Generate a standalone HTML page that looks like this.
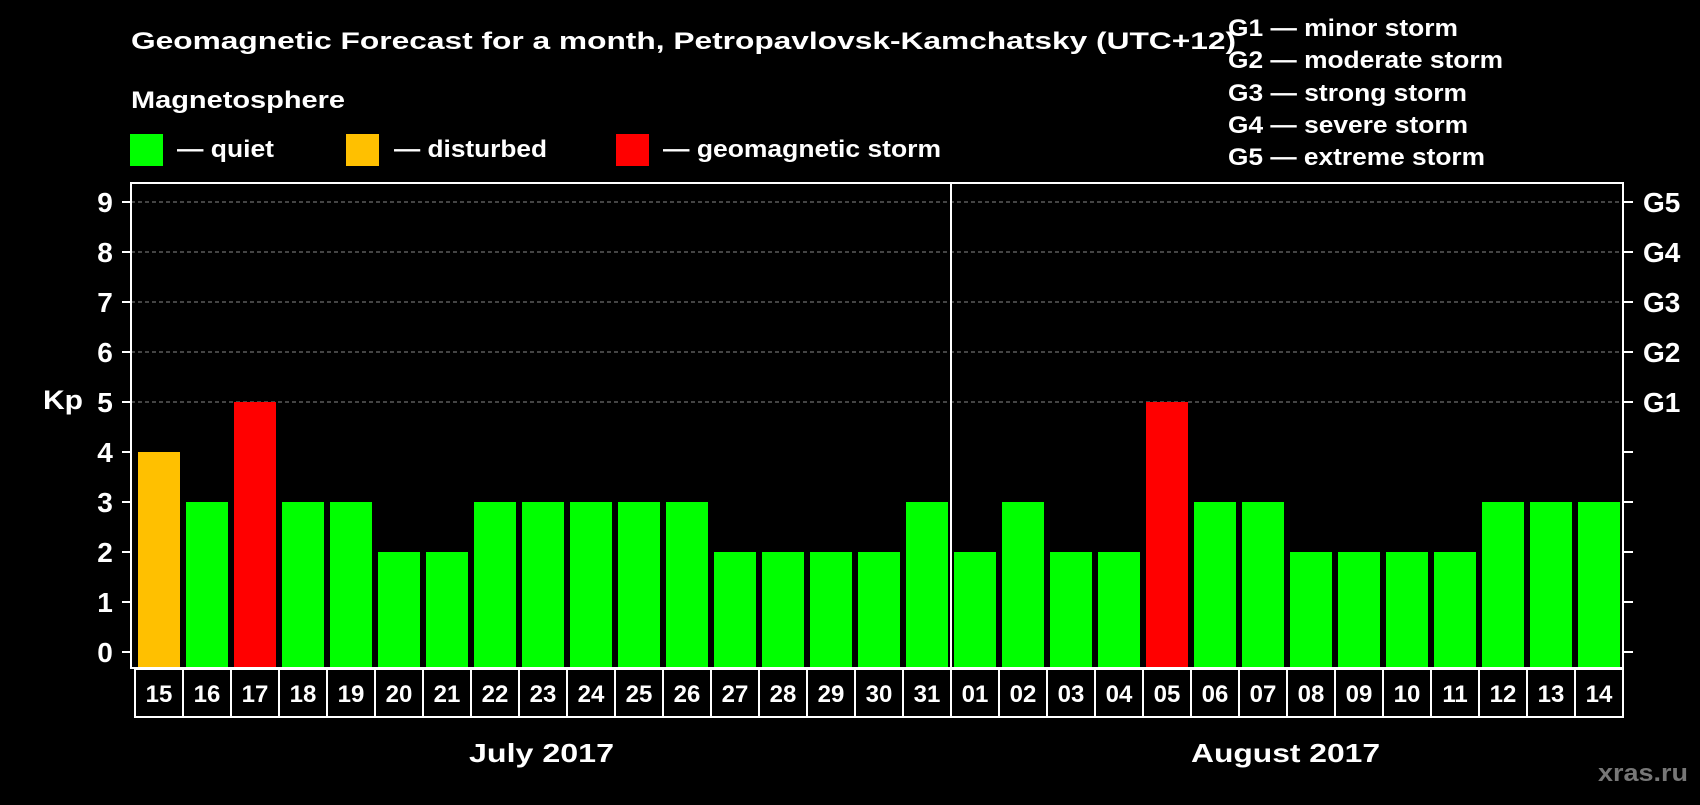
<!DOCTYPE html>
<html><head><meta charset="utf-8"><style>
body{margin:0;background:#000;width:1700px;height:800px;overflow:hidden;font-family:"Liberation Sans",sans-serif}
svg text{font-family:"Liberation Sans",sans-serif;font-weight:bold;fill:#fff}
</style></head><body>
<svg id="c" width="1700" height="800">
<text x="131" y="49" font-size="24" textLength="1105" lengthAdjust="spacingAndGlyphs">Geomagnetic Forecast for a month, Petropavlovsk-Kamchatsky (UTC+12)</text>
<text x="131" y="108" font-size="24" textLength="214" lengthAdjust="spacingAndGlyphs">Magnetosphere</text>
<rect x="130" y="134" width="33" height="32" fill="#00ff00"/>
<text x="177" y="157" font-size="24" textLength="97" lengthAdjust="spacingAndGlyphs">— quiet</text>
<rect x="346" y="134" width="33" height="32" fill="#ffc000"/>
<text x="394" y="157" font-size="24" textLength="153" lengthAdjust="spacingAndGlyphs">— disturbed</text>
<rect x="616" y="134" width="33" height="32" fill="#ff0000"/>
<text x="663" y="157" font-size="24" textLength="278" lengthAdjust="spacingAndGlyphs">— geomagnetic storm</text>
<g font-size="24">
<text x="1228" y="36" textLength="230" lengthAdjust="spacingAndGlyphs">G1 — minor storm</text>
<text x="1228" y="68" textLength="275" lengthAdjust="spacingAndGlyphs">G2 — moderate storm</text>
<text x="1228" y="101" textLength="239" lengthAdjust="spacingAndGlyphs">G3 — strong storm</text>
<text x="1228" y="133" textLength="240" lengthAdjust="spacingAndGlyphs">G4 — severe storm</text>
<text x="1228" y="165" textLength="257" lengthAdjust="spacingAndGlyphs">G5 — extreme storm</text>
</g>
<text x="43" y="409" font-size="27" textLength="40" lengthAdjust="spacingAndGlyphs">Kp</text>
<g id="grid"></g><g id="bars"></g><g id="axes"></g>
<text x="469" y="762" font-size="26" textLength="145" lengthAdjust="spacingAndGlyphs">July 2017</text>
<text x="1191" y="762" font-size="26" textLength="189" lengthAdjust="spacingAndGlyphs">August 2017</text>
<text x="1598" y="781" font-size="24" textLength="90" lengthAdjust="spacingAndGlyphs" style="fill:#777">xras.ru</text>
</svg>
<script>
const days=["15","16","17","18","19","20","21","22","23","24","25","26","27","28","29","30","31","01","02","03","04","05","06","07","08","09","10","11","12","13","14"];
const kp=[4,3,5,3,3,2,2,3,3,3,3,3,2,2,2,2,3,2,3,2,2,5,3,3,2,2,2,2,3,3,3];
const yTicks=[0,1,2,3,4,5,6,7,8,9];
const gLabels=["","","","","","G1","G2","G3","G4","G5"];
const NS="http://www.w3.org/2000/svg";
const PL=135,SLOT=48,Y0=652,UNIT=50,PTOP=183,PBOT=668,PR=PL+SLOT*days.length;
const yS=v=>Y0-v*UNIT, xS=i=>PL+i*SLOT;
function mk(t,a,p){const e=document.createElementNS(NS,t);for(const k in a)e.setAttribute(k,a[k]);p.appendChild(e);return e;}
const grid=document.getElementById('grid'),bars=document.getElementById('bars'),axes=document.getElementById('axes');
yTicks.forEach(v=>{
 if(v>=5){const g=mk('line',{x1:131,x2:PR,y1:yS(v),y2:yS(v),stroke:'#888','stroke-width':1,'stroke-dasharray':'4 3'},grid);
 
 }
 const t1=mk('line',{x1:122,x2:131,y1:yS(v),y2:yS(v),stroke:'#fff','stroke-width':2},axes);
 
 
 const t2=mk('line',{x1:PR,x2:PR+10,y1:yS(v),y2:yS(v),stroke:'#fff','stroke-width':2},axes);
 
 
 const tl=mk('text',{x:105,y:yS(v)+10,'font-size':28,'text-anchor':'middle'},axes);tl.textContent=v;
 
 
 if(gLabels[v]){const gl=mk('text',{x:1643,y:yS(v)+10,'font-size':28},axes);gl.textContent=gLabels[v];
 
 }
});
kp.forEach((v,i)=>{
 const c=v>=5?'#ff0000':v>=4?'#ffc000':'#00ff00';
 const b=mk('rect',{x:xS(i)+3,y:yS(v),width:42,height:PBOT-yS(v)-1,fill:c},bars);
 
 
 const bx=mk('rect',{x:xS(i),y:669,width:SLOT,height:48,fill:'none',stroke:'#fff','stroke-width':2},axes);
 
 
 const t=mk('text',{x:xS(i)+SLOT/2,y:702,'font-size':24,'text-anchor':'middle'},axes);t.textContent=days[i];
 
 
});
const fr=mk('rect',{x:131,y:PTOP,width:PR-131,height:PBOT-PTOP,fill:'none',stroke:'#fff','stroke-width':2},axes);


const dv=mk('line',{x1:xS(17),x2:xS(17),y1:PTOP,y2:PBOT,stroke:'#fff','stroke-width':2},axes);


</script>
</body></html>
